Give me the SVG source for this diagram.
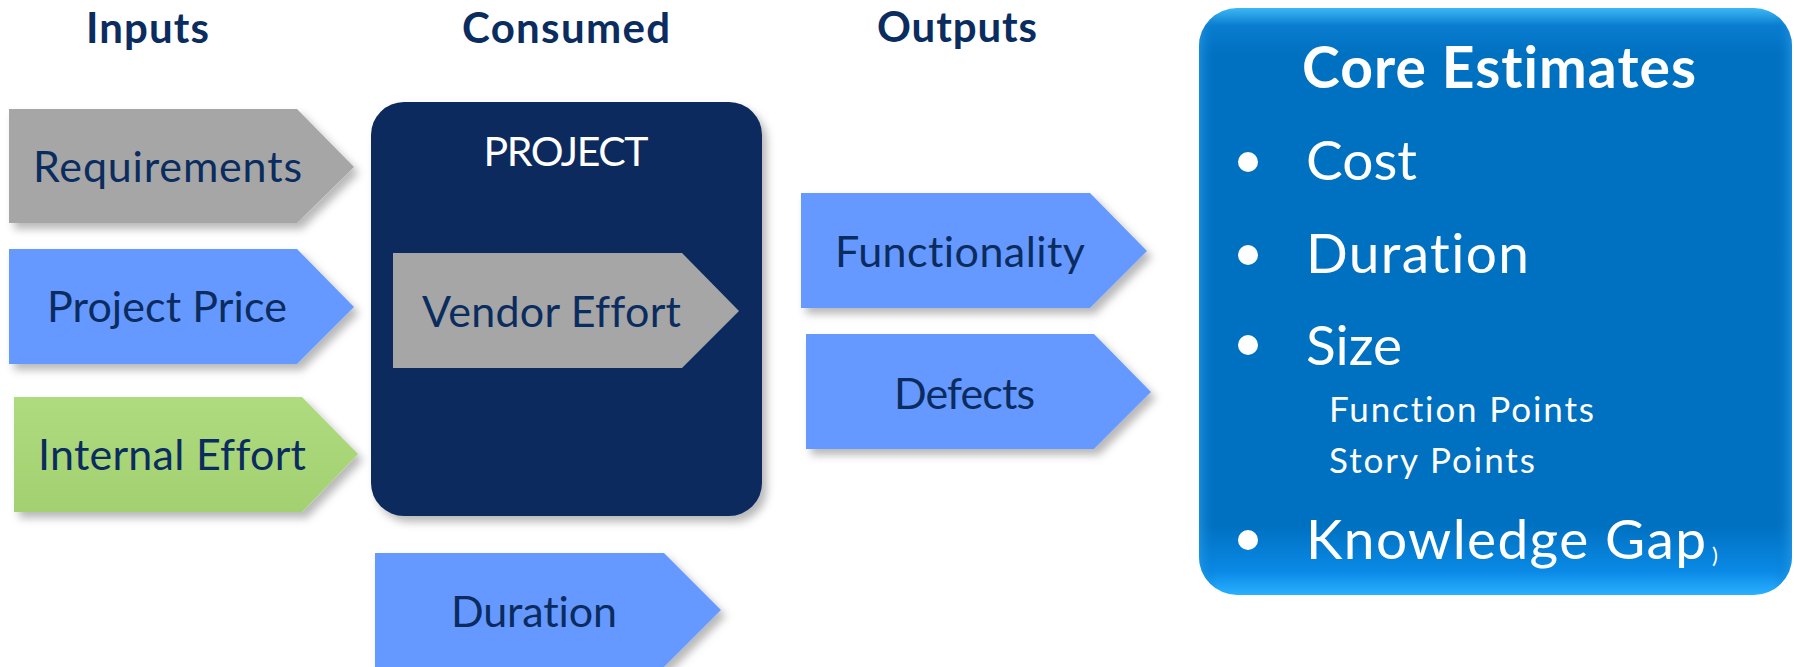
<svg xmlns="http://www.w3.org/2000/svg" width="1794" height="667" viewBox="0 0 1794 667">
<style>
text{font-variant-ligatures:none}
.hdr{font-family:Lato,"Liberation Sans",sans-serif;font-weight:bold;font-size:42px;fill:#0b2c5f}
.lbl{font-family:Lato,"Liberation Sans",sans-serif;font-size:43px;fill:#0b2c5f}
.wht{font-family:Lato,"Liberation Sans",sans-serif;fill:#ffffff}
.gray{fill:#a6a6a6}
.blue{fill:#6699ff}
.green{fill:url(#gGreen)}
</style>
<defs>
<filter id="sh" x="-10%" y="-10%" width="130%" height="140%">
<feDropShadow dx="5" dy="6" stdDeviation="4" flood-color="#000" flood-opacity="0.28"/>
</filter>
<linearGradient id="gGreen" x1="0" y1="0" x2="0" y2="1">
<stop offset="0" stop-color="#aedb7e"/>
<stop offset="1" stop-color="#a3d070"/>
</linearGradient>
<linearGradient id="gCore" x1="0" y1="0" x2="0" y2="1">
<stop offset="0" stop-color="#3cb8f4"/>
<stop offset="0.03" stop-color="#0a7dd0"/>
<stop offset="0.08" stop-color="#0070c0"/>
<stop offset="0.88" stop-color="#0070c0"/>
<stop offset="0.96" stop-color="#0a8ae6"/>
<stop offset="1" stop-color="#2ab0ff"/>
</linearGradient>
<linearGradient id="gCoreH" x1="0" y1="0" x2="1" y2="0">
<stop offset="0" stop-color="#2aa0ee" stop-opacity="0.55"/>
<stop offset="0.03" stop-color="#0070c0" stop-opacity="0"/>
<stop offset="0.97" stop-color="#0070c0" stop-opacity="0"/>
<stop offset="1" stop-color="#2aa0ee" stop-opacity="0.55"/>
</linearGradient>
</defs>
<rect width="1794" height="667" fill="#ffffff"/>

<g id="headers">
<text class="hdr" x="86" y="43" textLength="123">Inputs</text>
<text class="hdr" x="462" y="43" textLength="208">Consumed</text>
<text class="hdr" x="877" y="42" textLength="160">Outputs</text>
</g>

<g id="node-requirements">
<polygon class="gray" filter="url(#sh)" points="9,109 297,109 354,167 297,223 9,223"/>
<text class="lbl" x="33" y="182" textLength="269">Requirements</text>
</g>
<g id="node-project-price">
<polygon class="blue" filter="url(#sh)" points="9,249 297,249 354,307 297,364 9,364"/>
<text class="lbl" x="47" y="322" textLength="240">Project Price</text>
</g>
<g id="node-internal-effort">
<polygon class="green" filter="url(#sh)" points="14,397 302,397 358,454 302,512 14,512"/>
<text class="lbl" x="38" y="470" textLength="268">Internal Effort</text>
</g>

<g id="node-project">
<rect x="371" y="102" width="391" height="414" rx="33" ry="33" fill="#082a5e" filter="url(#sh)"/>
<text class="wht" x="566" y="166" font-size="41" text-anchor="middle" textLength="165">PROJECT</text>
</g>
<g id="node-vendor-effort">
<polygon class="gray" points="393,253 682,253 739,311 682,368 393,368"/>
<text class="lbl" x="422" y="327" textLength="259">Vendor Effort</text>
</g>

<g id="node-duration-in">
<polygon class="blue" filter="url(#sh)" points="375,553 664,553 721,610 664,667 375,667"/>
<text class="lbl" x="451" y="627" textLength="166">Duration</text>
</g>

<g id="node-functionality">
<polygon class="blue" filter="url(#sh)" points="801,193 1090,193 1147,251 1090,308 801,308"/>
<text class="lbl" x="835" y="267" textLength="250">Functionality</text>
</g>
<g id="node-defects">
<polygon class="blue" filter="url(#sh)" points="806,334 1094,334 1151,392 1094,449 806,449"/>
<text class="lbl" x="894" y="409" textLength="141">Defects</text>
</g>

<g id="node-core-estimates">
<rect x="1199" y="8" width="593" height="587" rx="38" ry="38" fill="url(#gCore)"/>
<rect x="1199" y="8" width="593" height="587" rx="38" ry="38" fill="url(#gCoreH)"/>
<text class="wht" x="1302" y="88" font-size="57" font-weight="bold" textLength="394">Core Estimates</text>
<circle cx="1248" cy="162" r="10" fill="#ffffff"/>
<text class="wht" x="1306" y="180" font-size="55" textLength="111">Cost</text>
<circle cx="1248" cy="255" r="10" fill="#ffffff"/>
<text class="wht" x="1306" y="273" font-size="55" textLength="223">Duration</text>
<circle cx="1248" cy="345" r="10" fill="#ffffff"/>
<text class="wht" x="1306" y="365" font-size="55" textLength="96">Size</text>
<text class="wht" x="1329" y="422" font-size="35" textLength="265">Function Points</text>
<text class="wht" x="1329" y="473" font-size="35" textLength="206">Story Points</text>
<circle cx="1248" cy="540" r="10" fill="#ffffff"/>
<text class="wht" x="1306" y="559" font-size="55" textLength="400">Knowledge Gap</text>
<text class="wht" x="1712" y="563" font-size="22">)</text>
</g>

<g id="connectors"/>
</svg>
